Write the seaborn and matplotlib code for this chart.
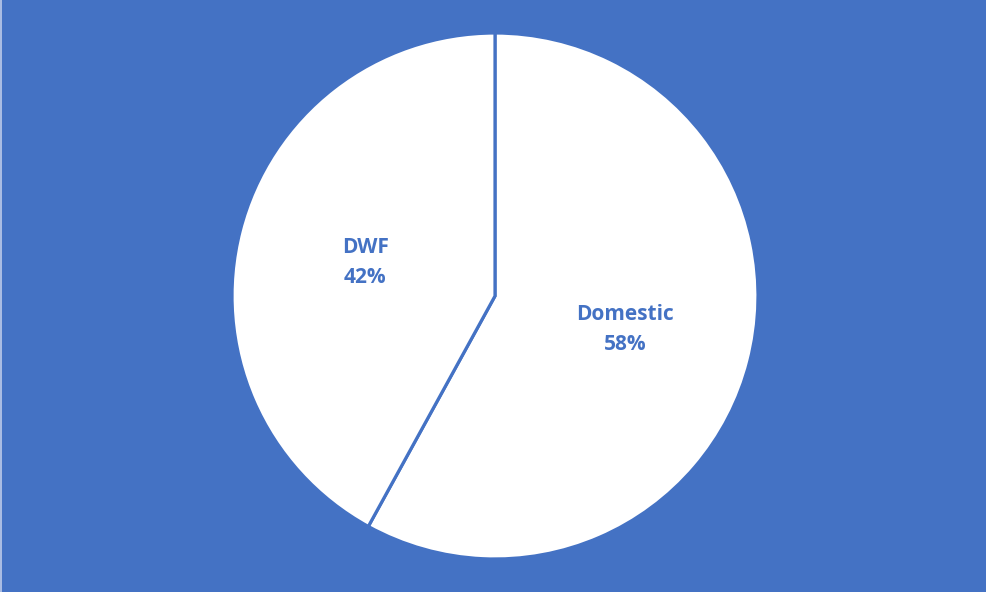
import matplotlib
matplotlib.use("Agg")
import matplotlib.pyplot as plt
import seaborn as sns
from matplotlib.patches import Rectangle

categories = ["Domestic", "DWF"]
values = [58, 42]

BLUE = "#4472C4"

sns.set_theme(style="white")
plt.rcParams['font.family'] = ['Open Sans', 'DejaVu Sans']

W, H = 987, 592
fig = plt.figure(figsize=(W / 100, H / 100), dpi=100, facecolor=BLUE)
fig.patches.append(Rectangle((0, 0), 2.0 / W, 1, transform=fig.transFigure,
                             facecolor="#A9BCE3", edgecolor="none", zorder=0))

cx, cy, r = 495, 296, 263
ax = fig.add_axes([(cx - r) / W, (H - cy - r) / H, 2 * r / W, 2 * r / H])
ax.set_facecolor(BLUE)

labels = [f"{c}\n{v}%" for c, v in zip(categories, values)]
wedges, texts = ax.pie(values, labels=labels, startangle=90, counterclock=False,
                       colors=["white", "white"], labeldistance=0.51,
                       wedgeprops=dict(edgecolor=BLUE, linewidth=2.3),
                       textprops=dict(color=BLUE, fontsize=15, fontweight="bold",
                                      ha="center", va="center", linespacing=1.55))
for t in texts:
    t.set_ha("center")
    t.set_va("center")
for w in wedges:
    w.set_clip_on(False)
ax.set_xlim(-1, 1)
ax.set_ylim(-1, 1)
ax.axis("off")

fig.savefig("out.png", dpi=100, facecolor=BLUE)
